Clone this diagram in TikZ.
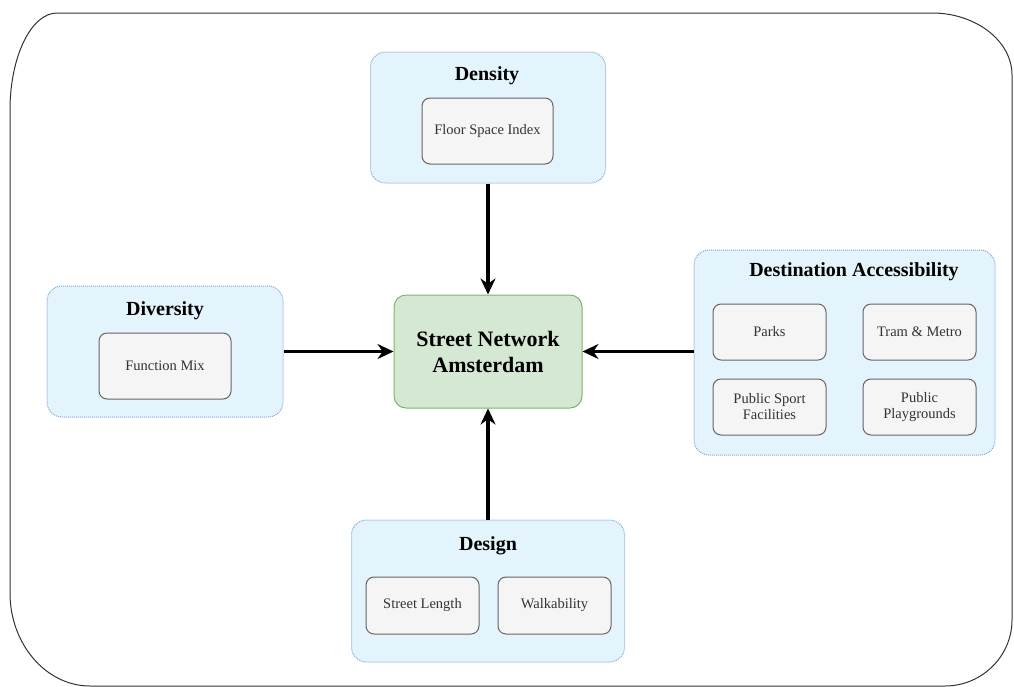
\documentclass[tikz,border=0pt]{standalone}
\usepackage{fontspec}
\setmainfont{Liberation Serif}
\usetikzlibrary{arrows.meta, positioning}
\definecolor{groupfill}{HTML}{E3F4FC}
\definecolor{groupline}{HTML}{7EA6E0}
\definecolor{itemfill}{HTML}{F5F5F5}
\definecolor{itemline}{HTML}{666666}
\definecolor{itemtext}{HTML}{333333}
\definecolor{mainfill}{HTML}{D5E8D4}
\definecolor{mainline}{HTML}{82B366}

\begin{document}
\begin{tikzpicture}[x=1pt, y=-1pt,
    group/.style={draw=groupline, fill=groupfill, densely dotted, line width=1pt, rounded corners=15pt},
    grouptitle/.style={font=\fontsize{20}{22}\bfseries\selectfont, text=black},
    item/.style={draw=itemline, fill=itemfill, line width=1pt, rounded corners=8pt, align=center,
      text=itemtext, font=\fontsize{14.5}{16}\selectfont, inner sep=0pt},
    mainbox/.style={draw=mainline, fill=mainfill, line width=1pt, rounded corners=12pt, align=center,
      font=\fontsize{22}{26}\bfseries\selectfont, minimum width=188pt, minimum height=113pt},
    link/.style={line width=3.5pt, -{Stealth[length=16pt, width=15pt]}}]
  \useasboundingbox (0,0) rectangle (1014,686);

  % outer frame
  \draw[line width=1pt, black!80] (10,110) .. controls (10,57) and (31,13) .. (57,13)
    -- (932,13) .. controls (976,13) and (1012,41) .. (1012,75)
    -- (1012,620) .. controls (1012,656) and (982,686) .. (945,686)
    -- (90,686) .. controls (46,686) and (10,644) .. (10,593) -- cycle;

  % centre
  \node[mainbox] (street) at (488,351.5) {Street Network\\Amsterdam};

  % Density
  \node[group, minimum width=235pt, minimum height=131pt] (density) at (488,117.5) {};
  \node[grouptitle] (densityt) at (487,76) {Density};
  \node[item, minimum width=131pt, minimum height=66pt] (fsi) at (487.5,131) {Floor Space Index};

  % Diversity
  \node[group, minimum width=236pt, minimum height=131pt] (diversity) at (165,351.5) {};
  \node[grouptitle] (diversityt) at (165,311) {Diversity};
  \node[item, minimum width=132pt, minimum height=66pt] (mix) at (165,366) {Function Mix};

  % Destination Accessibility
  \node[group, minimum width=301pt, minimum height=205pt] (dest) at (844.5,352.5) {};
  \node[grouptitle] (destt) at (854,272) {Destination Accessibility};
  \node[item, minimum width=113pt, minimum height=56pt] (parks) at (769.5,332) {Parks};
  \node[item, minimum width=113pt, minimum height=56pt] (tram) at (919.5,332) {Tram \& Metro};
  \node[item, minimum width=113pt, minimum height=56pt] (sport) at (769.5,407) {Public Sport\\Facilities};
  \node[item, minimum width=113pt, minimum height=56pt] (play) at (919.5,407) {Public\\Playgrounds};

  % Design
  \node[group, minimum width=273pt, minimum height=142pt] (design) at (488,591) {};
  \node[grouptitle] (designt) at (488,546) {Design};
  \node[item, minimum width=113pt, minimum height=57pt] (length) at (422.5,605.5) {Street Length};
  \node[item, minimum width=113pt, minimum height=57pt] (walk) at (554.5,605.5) {Walkability};

  % arrows
  \draw[link] (density.south) -- (street.north);
  \draw[link] (diversity.east) -- (street.west);
  \draw[link] (dest.west |- street.east) -- (street.east);
  \draw[link] (design.north) -- (street.south);
\end{tikzpicture}
\end{document}
